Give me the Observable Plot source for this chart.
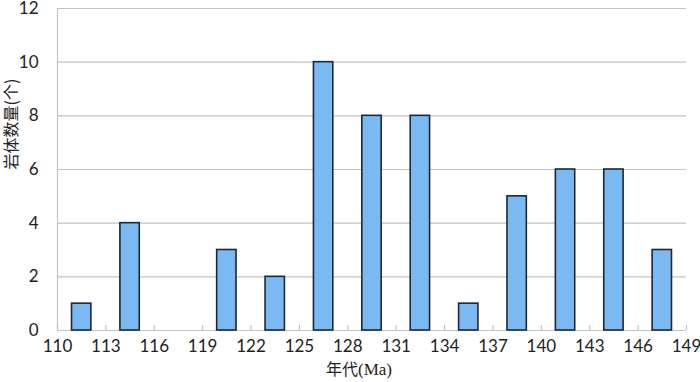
<!DOCTYPE html>
<html><head><meta charset="utf-8">
<script src="https://cdn.jsdelivr.net/npm/d3@7"></script>
<script src="https://cdn.jsdelivr.net/npm/@observablehq/plot@0.6"></script>
<style>body{margin:0;background:#fff}</style>
</head><body><div id="chart"></div>
<script>
const ages = [111.5,114.5,117.5,120.5,123.5,126.5,129.5,132.5,135.5,138.5,141.5,144.5,147.5];
const counts = [1,4,0,3,2,10,8,8,1,5,6,6,3];
const xTicks = [110,113,116,119,122,125,128,131,134,137,140,143,146,149];
const yTicks = [0,2,4,6,8,10,12];
const xLabelA = "年代";
const xLabelB = "(Ma)";
const yLabel = "岩体数量(个)";

const data = ages.map((a,i)=>({age:a,count:counts[i]}));
const halfW = 0.6;
const grid = "#c4c4c4";

const chart = Plot.plot({
  width:700, height:382,
  marginLeft:57, marginRight:14, marginTop:8, marginBottom:52,
  style:{fontFamily:"Lato, 'Open Sans', sans-serif", background:"#fff"},
  x:{domain:[110,149]},
  y:{domain:[0,12]},
  marks:[
    Plot.gridY(yTicks,{stroke:grid,strokeOpacity:1,strokeWidth:1.2}),
    Plot.ruleX([110],{stroke:grid,strokeWidth:1.2}),
    Plot.ruleY([0],{stroke:grid,strokeWidth:1.2}),
    Plot.axisX(xTicks,{tickSize:-5,text:null,stroke:grid,strokeWidth:1.2}),
    Plot.axisX(xTicks,{tickSize:0,tickPadding:9,fontSize:17,fill:"#222",label:null}),
    Plot.axisY(yTicks,{tickSize:0,tickPadding:19,fontSize:17,fill:"#222",label:null}),
    Plot.rectY(data,{filter:d=>d.count>0,x1:d=>d.age-halfW,x2:d=>d.age+halfW,y:"count",fill:"#7bb9f3",stroke:"#1b2836",strokeWidth:1.6}),
    Plot.text([xLabelA],{frameAnchor:"bottom",dy:44,dx:-14,textAnchor:"end",fontSize:16,fill:"#222",fontFamily:"'Noto Sans CJK SC'"}),
    Plot.text([xLabelB],{frameAnchor:"bottom",dy:44,dx:-14,textAnchor:"start",fontSize:17,fill:"#222",fontFamily:"'Liberation Serif', serif"}),
    Plot.text([yLabel],{frameAnchor:"left",dx:-46,rotate:-90,fontSize:16,fill:"#222",fontFamily:"'Noto Sans CJK SC'"})
  ]
});
document.getElementById("chart").appendChild(chart);
</script></body></html>
